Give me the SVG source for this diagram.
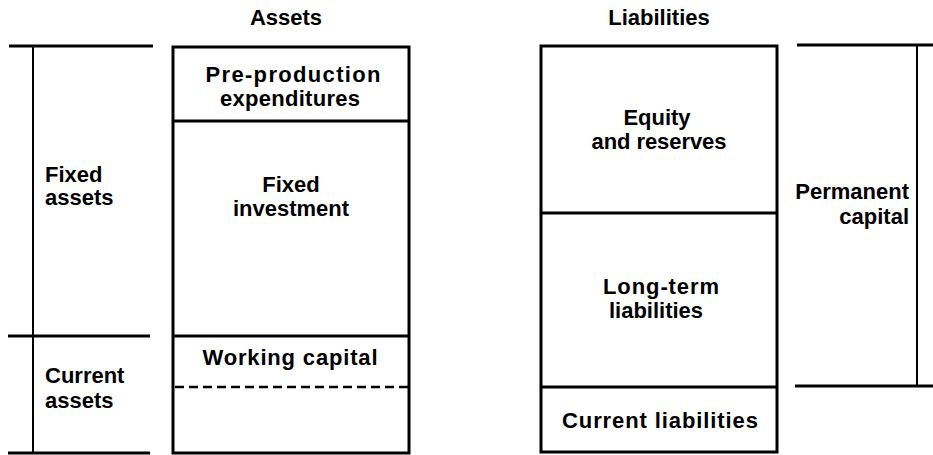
<svg xmlns="http://www.w3.org/2000/svg" width="933" height="455" viewBox="0 0 933 455">
<style>
.t{font-family:"Liberation Sans",Arial,sans-serif;font-size:22px;font-weight:bold;fill:#000;text-anchor:middle}
.l{text-anchor:start}
.r{text-anchor:end}
.box{fill:none;stroke:#000;stroke-width:3}
.ln{stroke:#000;stroke-width:3;fill:none}
.thin{stroke:#000;stroke-width:2;fill:none}
.dash{stroke:#000;stroke-width:2.5;stroke-dasharray:9,5;fill:none}
</style>
<rect width="933" height="455" fill="#fff"/>
<text class="t" x="286" y="25">Assets</text>
<text class="t" x="659" y="25">Liabilities</text>
<g id="fixed-assets">
<line class="ln" x1="9" y1="46" x2="153" y2="46"/>
<line class="thin" x1="33" y1="46" x2="33" y2="453"/>
<text class="t l" x="45" y="182">Fixed</text>
<text class="t l" x="45" y="205">assets</text>
</g>
<g id="current-assets">
<line class="ln" x1="8" y1="336" x2="150" y2="336"/>
<line class="ln" x1="8" y1="453" x2="150" y2="453"/>
<text class="t l" x="45" y="383">Current</text>
<text class="t l" x="45" y="408">assets</text>
</g>
<g id="assets-box">
<rect class="box" x="173" y="47" width="236" height="406"/>
<line class="ln" x1="173" y1="121" x2="409" y2="121"/>
<line class="ln" x1="173" y1="336" x2="409" y2="336"/>
<line class="dash" x1="175" y1="387" x2="409" y2="387"/>
</g>
<g id="pre-production">
<text class="t" x="293" y="82" textLength="175">Pre-production</text>
<text class="t" x="290" y="106" textLength="140">expenditures</text>
</g>
<g id="fixed-investment">
<text class="t" x="291" y="192">Fixed</text>
<text class="t" x="291" y="216">investment</text>
</g>
<g id="working-capital">
<text class="t" x="290" y="365" textLength="175">Working capital</text>
</g>
<g id="liabilities-box">
<rect class="box" x="541" y="46" width="236" height="406"/>
<line class="ln" x1="541" y1="213" x2="777" y2="213"/>
<line class="ln" x1="541" y1="387" x2="777" y2="387"/>
</g>
<g id="equity">
<text class="t" x="657" y="125">Equity</text>
<text class="t" x="659" y="149" textLength="135">and reserves</text>
</g>
<g id="long-term">
<text class="t" x="661" y="294" textLength="116">Long-term</text>
<text class="t" x="656" y="318">liabilities</text>
</g>
<g id="current-liabilities">
<text class="t" x="660" y="428" textLength="196">Current liabilities</text>
</g>
<g id="permanent-capital">
<line class="ln" x1="797" y1="45" x2="933" y2="45"/>
<line class="thin" x1="917" y1="45" x2="917" y2="385"/>
<line class="ln" x1="795" y1="386" x2="933" y2="386"/>
<text class="t r" x="909" y="199">Permanent</text>
<text class="t r" x="909" y="224">capital</text>
</g>
</svg>
